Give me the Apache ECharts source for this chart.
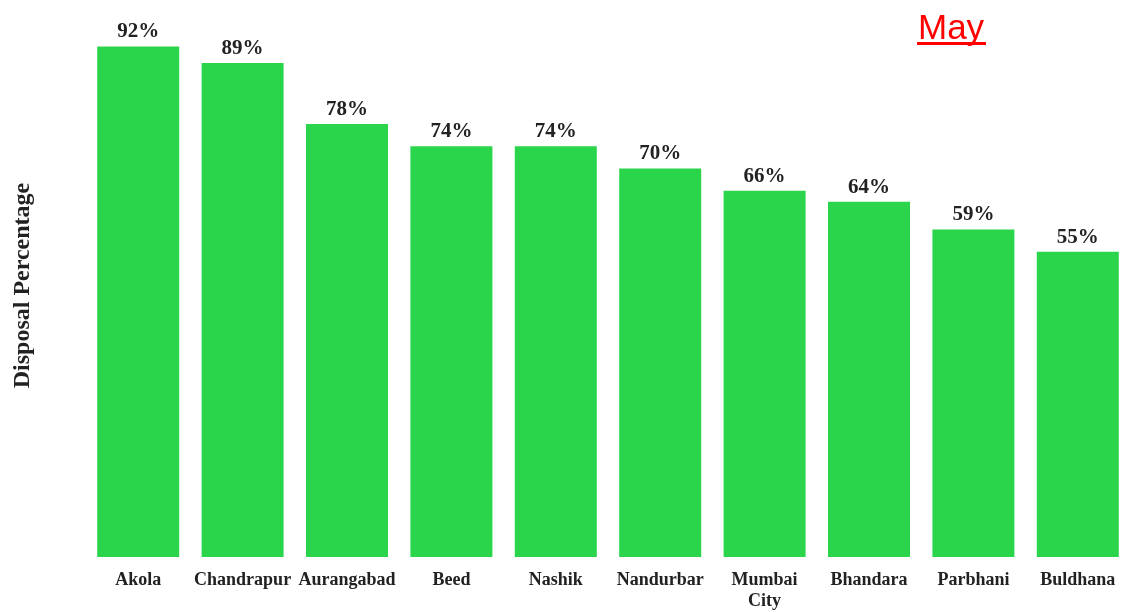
<!DOCTYPE html>
<html>
<head>
<meta charset="utf-8">
<style>
  html, body { margin: 0; padding: 0; background: #fff; }
  #chart { width: 1124px; height: 612px; }
</style>
<script src="https://cdn.jsdelivr.net/npm/echarts@6/dist/echarts.min.js"></script>
</head>
<body>
<div id="chart"></div>
<script>
// District-wise disposal percentage for May
const districts = ['Akola', 'Chandrapur', 'Aurangabad', 'Beed', 'Nashik', 'Nandurbar', 'Mumbai\nCity', 'Bhandara', 'Parbhani', 'Buldhana'];
const disposal = [92, 89, 78, 74, 74, 70, 66, 64, 59, 55];
const monthTitle = 'May';
const axisTitle = 'Disposal Percentage';

const chart = echarts.init(document.getElementById('chart'), null, { renderer: 'canvas' });

const serif = '"Liberation Serif", "Times New Roman", serif';

chart.setOption({
  animation: false,
  backgroundColor: '#ffffff',
  grid: { left: 86, top: 2, width: 1044, height: 555, outerBoundsMode: 'none' },
  xAxis: {
    type: 'category',
    data: districts,
    axisLine: { show: false },
    axisTick: { show: false },
    axisLabel: {
      interval: 0,
      margin: 13,
      color: '#222',
      fontFamily: serif,
      fontWeight: 'bold',
      fontSize: 18,
      lineHeight: 21
    }
  },
  yAxis: {
    type: 'value',
    min: 0,
    max: 100,
    axisLine: { show: false },
    axisTick: { show: false },
    axisLabel: { show: false },
    splitLine: { show: false },
    name: axisTitle,
    nameLocation: 'middle',
    nameGap: 51,
    nameTextStyle: {
      color: '#222',
      fontFamily: serif,
      fontWeight: 'bold',
      fontSize: 24,
      padding: [0, 12, 0, 0]
    }
  },
  series: [{
    type: 'bar',
    data: disposal,
    barWidth: 82,
    itemStyle: { color: '#2ad54b' },
    label: {
      show: true,
      position: 'top',
      distance: 4,
      formatter: '{c}%',
      color: '#222',
      fontFamily: serif,
      fontWeight: 'bold',
      fontSize: 21
    }
  }],
  graphic: [
    {
      type: 'text',
      left: 918,
      top: 12,
      style: {
        text: monthTitle,
        fill: '#ff0000',
        font: '35px "Liberation Sans", Arial, sans-serif'
      }
    },
    {
      type: 'rect',
      shape: { x: 917, y: 42, width: 69, height: 3 },
      style: { fill: '#ff0000' }
    }
  ]
});
</script>
</body>
</html>
